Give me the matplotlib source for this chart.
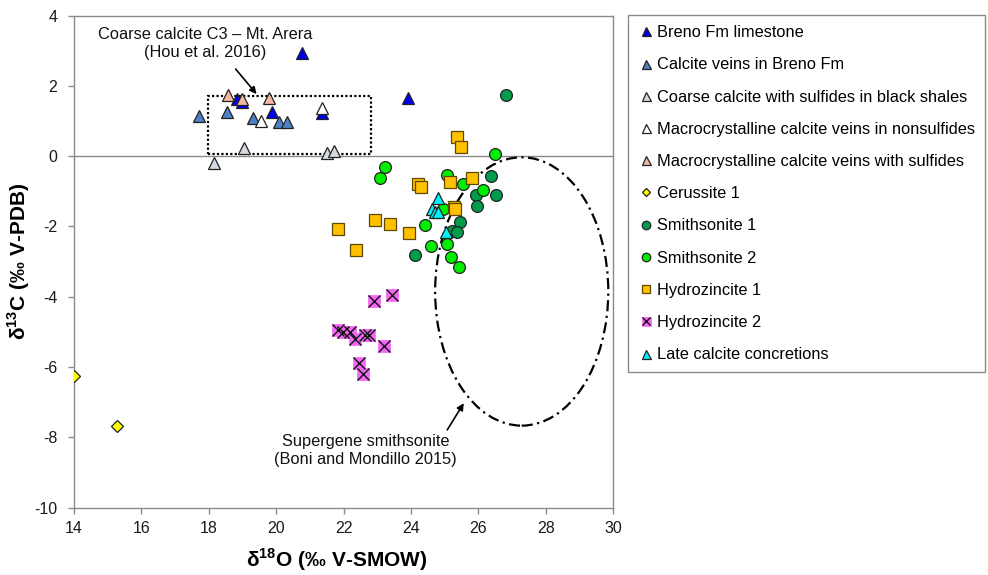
import matplotlib
matplotlib.use("Agg")
import matplotlib.pyplot as plt
from matplotlib.patches import Ellipse, Rectangle
from matplotlib.legend_handler import HandlerTuple

plt.rcParams['font.family'] = ['Liberation Sans', 'DejaVu Sans']
plt.rcParams['mathtext.fontset'] = 'custom'
plt.rcParams['mathtext.rm'] = 'Liberation Sans'
plt.rcParams['mathtext.bf'] = 'Liberation Sans:bold'
plt.rcParams['axes.unicode_minus'] = False

# ---- data (d18O V-SMOW, d13C V-PDB) ----
breno_x = [20.76, 23.92, 18.85, 18.98, 19.87, 21.35]
breno_y = [2.93, 1.67, 1.62, 1.55, 1.26, 1.22]

veins_x = [17.72, 18.55, 19.32, 20.08, 20.33]
veins_y = [1.14, 1.26, 1.08, 0.98, 0.98]

coarse_x = [19.04, 21.50, 21.72, 18.15]
coarse_y = [0.22, 0.10, 0.15, -0.19]

macro_ns_x = [19.54, 21.35]
macro_ns_y = [1.01, 1.36]

macro_s_x = [18.58, 18.98, 19.80]
macro_s_y = [1.74, 1.62, 1.65]

ceru_x = [14.0, 15.29]
ceru_y = [-6.25, -7.69]

smith1_x = [26.82, 26.39, 25.93, 26.54, 25.97, 25.45, 25.23, 25.37, 24.12]
smith1_y = [1.74, -0.56, -1.09, -1.11, -1.42, -1.87, -2.13, -2.17, -2.80]

smith2_x = [26.49, 23.24, 23.08, 25.06, 25.55, 26.13, 24.96, 24.42, 24.61, 25.06, 25.18, 25.42]
smith2_y = [0.06, -0.30, -0.63, -0.54, -0.80, -0.97, -1.49, -1.97, -2.56, -2.49, -2.87, -3.14]

hz1_x = [25.36, 25.48, 24.22, 24.29, 25.16, 25.80, 25.27, 25.31, 22.93, 23.38, 23.94, 21.83, 22.37]
hz1_y = [0.55, 0.25, -0.80, -0.88, -0.73, -0.61, -1.45, -1.49, -1.81, -1.93, -2.20, -2.07, -2.68]

hz2_x = [22.91, 23.43, 21.84, 21.99, 22.19, 22.34, 22.64, 22.76, 23.21, 22.47, 22.58]
hz2_y = [-4.12, -3.95, -4.96, -5.01, -5.01, -5.20, -5.10, -5.10, -5.39, -5.88, -6.21]

late_x = [24.81, 24.64, 24.72, 24.80, 25.03]
late_y = [-1.18, -1.50, -1.58, -1.60, -2.16]

labels = ["Breno Fm limestone", "Calcite veins in Breno Fm",
          "Coarse calcite with sulfides in black shales",
          "Macrocrystalline calcite veins in nonsulfides",
          "Macrocrystalline calcite veins with sulfides",
          "Cerussite 1", "Smithsonite 1", "Smithsonite 2",
          "Hydrozincite 1", "Hydrozincite 2", "Late calcite concretions"]

x_ticks = [14, 16, 18, 20, 22, 24, 26, 28, 30]
y_ticks = [4, 2, 0, -2, -4, -6, -8, -10]

fig = plt.figure(figsize=(9.88, 5.75), dpi=100)
ax_l, ax_r, ax_t, ax_b = 74, 613, 15.7, 507.5
ax = fig.add_axes([ax_l/988, 1-ax_b/575, (ax_r-ax_l)/988, (ax_b-ax_t)/575])
aw, ah = ax_r - ax_l, ax_b - ax_t

ax.set_xlim(14, 30)
ax.set_ylim(-10, 4)
ax.set_xticks(x_ticks)
ax.set_yticks(y_ticks)
for s in ax.spines.values():
    s.set_color('#8a8a8a')
    s.set_linewidth(1.0)
ax.tick_params(direction='out', length=4, width=1, color='#8a8a8a',
               labelsize=11.5, labelcolor='#1a1a1a', pad=6)
ax.tick_params(axis='y', pad=8)

ax.axhline(0, color='#8a8a8a', lw=1.0, zorder=1)

# reference fields
ax.add_patch(Rectangle((17.97, 0.07), 22.81-17.97, 1.72-0.07, fill=False,
                       ec='black', lw=1.6, ls=(0, (1, 1)), zorder=2))
ax.add_patch(Ellipse((27.29, -3.85), 5.14, 7.64, fill=False, ec='black',
                     lw=1.6, ls=(0, (5, 2, 1, 2)), zorder=2))

ec = '#222222'
styles = [
    (breno_x, breno_y, dict(marker='^', ms=9, mfc='#0000ee', mec=ec)),
    (veins_x, veins_y, dict(marker='^', ms=9, mfc='#4f81c4', mec=ec)),
    (coarse_x, coarse_y, dict(marker='^', ms=9, mfc='#d3dae4', mec=ec)),
    (macro_ns_x, macro_ns_y, dict(marker='^', ms=9, mfc='white', mec=ec)),
    (macro_s_x, macro_s_y, dict(marker='^', ms=9, mfc='#f4b6a4', mec=ec)),
    (ceru_x, ceru_y, dict(marker='D', ms=6, mfc='#ffff00', mec=ec)),
    (smith1_x, smith1_y, dict(marker='o', ms=8.5, mfc='#009c4c', mec=ec)),
    (smith2_x, smith2_y, dict(marker='o', ms=8.5, mfc='#00ee00', mec=ec)),
    (hz1_x, hz1_y, dict(marker='s', ms=8, mfc='#ffc000', mec='#5c4800')),
]
handles = []
for xs, ys, st in styles:
    h, = ax.plot(xs, ys, ls='none', mew=0.9, zorder=3, **st)
    handles.append(h)

h_sq, = ax.plot(hz2_x, hz2_y, ls='none', marker='s', ms=9, mfc='#f466f4',
                mec='#f466f4', mew=0.5, zorder=3)
h_x, = ax.plot(hz2_x, hz2_y, ls='none', marker='x', ms=8.5, mec='#111111',
               mew=1.0, zorder=3)
handles.append((h_sq, h_x))

h_late, = ax.plot(late_x, late_y, ls='none', marker='^', ms=9, mfc='#00f0f8',
                  mec=ec, mew=0.9, zorder=3)
handles.append(h_late)

# annotations
ax.text(17.9, 3.2, "Coarse calcite C3 – Mt. Arera\n(Hou et al. 2016)",
        ha='center', va='center', fontsize=11.8, linespacing=1.25, color='#111111')
ax.annotate("", xy=(19.42, 1.77), xytext=(18.8, 2.48),
            arrowprops=dict(arrowstyle='-|>', color='black', lw=1.2,
                            mutation_scale=10, shrinkA=0, shrinkB=0))
ax.text(22.66, -8.37, "Supergene smithsonite\n(Boni and Mondillo 2015)",
        ha='center', va='center', fontsize=11.8, linespacing=1.25, color='#111111')
ax.annotate("", xy=(25.57, -7.03), xytext=(25.08, -7.79),
            arrowprops=dict(arrowstyle='-|>', color='black', lw=1.2,
                            mutation_scale=10, shrinkA=0, shrinkB=0))

ax.set_xlabel(r"δ$^{\mathbf{18}}$O (‰ V-SMOW)", fontsize=15, fontweight='bold')
ax.xaxis.set_label_coords((336.7 - ax_l)/aw, -(560 - ax_b)/ah)
ax.xaxis.label.set_va('center')
ax.set_ylabel(r"δ$^{\mathbf{13}}$C (‰ V-PDB)", fontsize=15, fontweight='bold')
ax.yaxis.set_label_coords(-(ax_l - 19)/aw, 0.5)
ax.yaxis.label.set_va('center')

top = 1 - 15/575
leg = fig.legend(handles, labels, loc='upper left',
                 bbox_to_anchor=(628/988, top - 0.8, (985-628)/988, 0.8),
                 mode='expand', fontsize=11.8, frameon=True, fancybox=False,
                 edgecolor='#8a8a8a', framealpha=1, borderpad=0.62,
                 labelspacing=1.05, handlelength=0.9, handletextpad=0.25,
                 borderaxespad=0, markerscale=0.72,
                 handler_map={tuple: HandlerTuple(ndivide=1, pad=0)})
leg.get_frame().set_linewidth(1.0)

fig.savefig("out.png", dpi=100)
